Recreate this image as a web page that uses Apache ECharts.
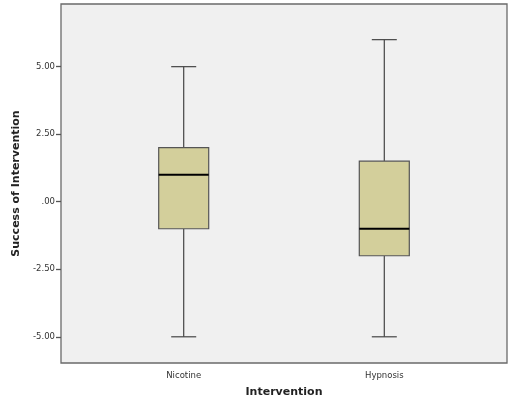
<!DOCTYPE html>
<html>
<head>
<meta charset="utf-8">
<script src="https://cdn.jsdelivr.net/npm/echarts@6/dist/echarts.min.js"></script>
<style>
  html, body { margin: 0; padding: 0; background: #fff; }
  #chart { width: 514px; height: 411px; }
</style>
</head>
<body>
<div id="chart"></div>
<script>
// data
var categories = ['Nicotine', 'Hypnosis'];
var mins = [-5, -5];
var q1s = [-1, -2];
var medians = [1, -1];
var q3s = [2, 1.5];
var maxs = [5, 6];
var yTicks = [-5, -2.5, 0, 2.5, 5];

var yMin = -5.97, yMax = 7.32;
var font = 'DejaVu Sans';
var boxHalf = 25;   // half box width in px
var capHalf = 12.5; // whisker cap is half the box

var boxData = [];
for (var i = 0; i < categories.length; i++) {
    boxData.push([i, mins[i], q1s[i], medians[i], q3s[i], maxs[i]]);
}

function renderBox(params, api) {
    var x = api.value(0);
    var pMin = api.coord([x, api.value(1)]);
    var pQ1 = api.coord([x, api.value(2)]);
    var pMed = api.coord([x, api.value(3)]);
    var pQ3 = api.coord([x, api.value(4)]);
    var pMax = api.coord([x, api.value(5)]);
    var cx = pMin[0];
    var wStyle = {stroke: '#444', lineWidth: 1.2};
    return {
        type: 'group',
        children: [
            {type: 'line', shape: {x1: cx, y1: pMax[1], x2: cx, y2: pQ3[1]}, style: wStyle},
            {type: 'line', shape: {x1: cx, y1: pQ1[1], x2: cx, y2: pMin[1]}, style: wStyle},
            {type: 'line', shape: {x1: cx - capHalf, y1: pMax[1], x2: cx + capHalf, y2: pMax[1]}, style: wStyle},
            {type: 'line', shape: {x1: cx - capHalf, y1: pMin[1], x2: cx + capHalf, y2: pMin[1]}, style: wStyle},
            {type: 'rect', shape: {x: cx - boxHalf, y: pQ3[1], width: boxHalf * 2, height: pQ1[1] - pQ3[1]},
             style: {fill: '#d3cf9b', stroke: '#555', lineWidth: 1.2}},
            {type: 'line', shape: {x1: cx - boxHalf, y1: pMed[1], x2: cx + boxHalf, y2: pMed[1]},
             style: {stroke: '#000', lineWidth: 2}}
        ]
    };
}

var chart = echarts.init(document.getElementById('chart'));

var option = {
    backgroundColor: '#fff',
    animation: false,
    grid: [
        // frame of the plot
        {left: 61, top: 4, width: 446, height: 359, show: true,
         backgroundColor: '#f0f0f0', borderColor: '#6a6a6a', borderWidth: 1.3},
        // inset grid so the two categories sit where SPSS puts them
        {left: 83.4, top: 4, width: 401.2, height: 359}
    ],
    xAxis: [
        {gridIndex: 0, type: 'value', show: false, min: 0, max: 1},
        {
            gridIndex: 1, type: 'category', data: categories,
            axisLine: {show: false},
            axisTick: {show: true, alignWithLabel: true, length: 5, lineStyle: {color: '#555', width: 1.3}},
            axisLabel: {fontFamily: font, fontSize: 8.5, color: '#333', margin: 8},
            splitLine: {show: false},
            name: 'Intervention', nameLocation: 'middle', nameGap: 24,
            nameTextStyle: {fontFamily: font, fontSize: 11, fontWeight: 'bold', color: '#222'}
        }
    ],
    yAxis: [
        {
            gridIndex: 0, type: 'value', min: yMin, max: yMax,
            axisLine: {show: false},
            axisTick: {show: true, length: 5, customValues: yTicks, lineStyle: {color: '#555', width: 1.3}},
            axisLabel: {
                fontFamily: font, fontSize: 8.5, color: '#333', margin: 6,
                customValues: yTicks,
                formatter: function (v) { return v === 0 ? '.00' : v.toFixed(2); }
            },
            splitLine: {show: false},
            name: 'Success of Intervention', nameLocation: 'middle', nameGap: 38,
            nameTextStyle: {fontFamily: font, fontSize: 11, fontWeight: 'bold', color: '#222'}
        },
        {gridIndex: 1, type: 'value', show: false, min: yMin, max: yMax, splitLine: {show: false}}
    ],
    series: [
        {
            type: 'custom',
            xAxisIndex: 1, yAxisIndex: 1,
            data: boxData,
            encode: {x: 0, y: [1, 2, 3, 4, 5]},
            renderItem: renderBox
        }
    ]
};

chart.setOption(option);
</script>
</body>
</html>
